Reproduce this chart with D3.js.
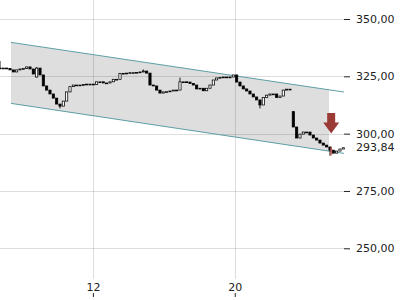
<!DOCTYPE html>
<html>
  <head>
    <meta charset="utf-8" />
    <script src="https://d3js.org/d3.v7.min.js"></script>
    <style>
        body { margin: 0; background: #fff; }
        text { font-family: "DejaVu Sans", sans-serif; }
        .axis path { display: none; }
        .axis text { font-size: 11px; fill: #222; }
        .axis line { stroke: #222; }
    </style>
  </head>
  <body>
    <script type="text/javascript">

        // closing prices, one candle every ~4.5 hours
        var closes = [
            328.6, 328.6, 328.4, 327.8, 326.9, 327.8, 328.2, 328.4, 329.1, 328.2,
            326.0, 328.6, 325.6, 320.8, 319.0, 317.3, 315.5, 312.9, 312.0, 314.2,
            318.2, 320.5, 321.2, 321.2, 321.2, 321.4, 321.6, 321.6, 321.4, 322.6,
            322.6, 322.1, 322.1, 322.6, 323.7, 323.7, 326.3, 326.3, 326.4, 326.6,
            326.6, 326.7, 326.9, 327.3, 326.4, 321.2, 320.8, 319.0, 317.7, 318.2,
            318.3, 318.6, 319.0, 319.0, 322.6, 322.6, 322.5, 321.9, 321.2, 319.5,
            319.8, 318.7, 319.8, 321.2, 323.4, 324.3, 324.5, 324.7, 324.5, 324.7,
            325.6, 322.5, 320.8, 319.5, 318.6, 317.3, 316.0, 314.7, 312.5, 315.8,
            316.8, 317.3, 317.3, 315.8, 316.4, 319.0, 319.4, 319.4, 302.9, 298.1,
            299.8, 300.7, 300.7, 299.4, 298.1, 297.2, 295.9, 295.0, 294.2, 292.8,
            291.5, 292.4, 293.3, 293.84
        ];
        // candles that did not open at the previous close: [index, open]
        var gapOpens = [[11, 324.7], [88, 309.6]];
        // wick extremes worth drawing: [index, high, low]
        var wicks = [[0, 331.7, 328.4], [11, 329.0, 324.5], [18, 312.0, 311.0],
                     [43, 328.0, 326.8], [54, 324.4, 320.5], [78, 312.5, 311.0],
                     [88, 309.9, 302.9], [99, 294.0, 290.4]];

        var firstDay = 6.76, candleStep = 0.188;
        var dayTicks = [12, 20];
        var priceTicks = [250, 275, 300, 325, 350];
        var lastPrice = 293.84;

        // trend channel: [day, price] end points
        var channelUpper = [[7.38, 339.8], [26.16, 318.15]];
        var channelLower = [[7.38, 313.2], [26.16, 291.4]];
        var channelFillEnd = 25.32;
        var signal = { day: 25.44, price: 300.1 };

        var width = 400, height = 300;
        var plotRight = 344;

        var svg = d3.select("body").append("svg")
            .attr("width", width)
            .attr("height", height);

        var x = d3.scaleLinear()
            .domain([firstDay, firstDay + (closes.length - 1) * candleStep])
            .range([0, 343.3]);
        var y = d3.scaleLinear()
            .domain([250, 350])
            .range([248.3, 19]);

        var de = d3.formatLocale({decimal: ",", thousands: ".", grouping: [3], currency: ["", " €"]});
        var fmt = de.format(".2f");

        // channel fill
        function lineAt(pts, d) {
            var t = (d - pts[0][0]) / (pts[1][0] - pts[0][0]);
            return pts[0][1] + t * (pts[1][1] - pts[0][1]);
        }
        var poly = [
            [channelUpper[0][0], channelUpper[0][1]],
            [channelFillEnd, lineAt(channelUpper, channelFillEnd)],
            [channelFillEnd, lineAt(channelLower, channelFillEnd)],
            [channelLower[0][0], channelLower[0][1]]
        ];
        svg.append("path")
            .attr("d", "M" + poly.map(function(p){ return x(p[0]) + "," + y(p[1]); }).join("L") + "Z")
            .attr("fill", "#dedede");

        // grid
        var grid = svg.append("g").attr("class", "grid");
        grid.selectAll("line.h")
            .data(priceTicks)
            .enter().append("line")
            .attr("class", "h")
            .attr("x1", 0).attr("x2", plotRight)
            .attr("y1", function(d){ return Math.round(y(d)) + 0.5; })
            .attr("y2", function(d){ return Math.round(y(d)) + 0.5; })
            .attr("stroke", "#000").attr("stroke-opacity", 0.13);
        grid.selectAll("line.v")
            .data(dayTicks)
            .enter().append("line")
            .attr("class", "v")
            .attr("y1", 0).attr("y2", 279)
            .attr("x1", function(d){ return Math.round(x(d)) + 0.5; })
            .attr("x2", function(d){ return Math.round(x(d)) + 0.5; })
            .attr("stroke", "#000").attr("stroke-opacity", 0.13);

        // channel borders
        [channelUpper, channelLower].forEach(function(pts) {
            svg.append("line")
                .attr("x1", x(pts[0][0])).attr("y1", y(pts[0][1]))
                .attr("x2", x(pts[1][0])).attr("y2", y(pts[1][1]))
                .attr("stroke", "#5d9fa6")
                .attr("stroke-width", 1);
        });

        // candles
        var candles = closes.map(function(c, i) {
            var o = i == 0 ? c : closes[i - 1];
            gapOpens.forEach(function(g){ if (g[0] == i) o = g[1]; });
            var hi = Math.max(o, c), lo = Math.min(o, c);
            wicks.forEach(function(w){ if (w[0] == i) { hi = Math.max(hi, w[1]); lo = Math.min(lo, w[2]); } });
            return {day: firstDay + i * candleStep, open: o, close: c, high: hi, low: lo};
        });

        var cw = 2.2;
        var cg = svg.append("g").attr("class", "candles");
        cg.selectAll("line")
            .data(candles)
            .enter().append("line")
            .attr("x1", function(d){ return x(d.day); })
            .attr("x2", function(d){ return x(d.day); })
            .attr("y1", function(d){ return y(d.high); })
            .attr("y2", function(d){ return y(d.low); })
            .attr("stroke", "#000")
            .attr("stroke-width", 0.9);
        cg.selectAll("rect")
            .data(candles)
            .enter().append("rect")
            .attr("x", function(d){ return x(d.day) - cw / 2; })
            .attr("width", cw)
            .attr("y", function(d){ return y(Math.max(d.open, d.close)); })
            .attr("height", function(d){ return Math.max(0.8, Math.abs(y(d.open) - y(d.close))); })
            .attr("fill", function(d){ return d.close >= d.open ? "#fff" : "#000"; })
            .attr("stroke", "#000")
            .attr("stroke-width", 0.75);

        // sell signal arrow
        var ax = x(signal.day), ay = y(signal.price);
        svg.append("path")
            .attr("d", "M" + ax + "," + ay +
                " l-8,-11 l4,0 l0,-9.5 l8,0 l0,9.5 l4,0 Z")
            .attr("fill", "#9b3b35");
        svg.append("rect")
            .attr("x", ax - 1).attr("y", y(294.0))
            .attr("width", 2).attr("height", 8)
            .attr("fill", "#c0504d").attr("opacity", 0.8);

        // y axis
        svg.append("g")
            .attr("class", "axis")
            .attr("transform", "translate(" + plotRight + ",0)")
            .call(d3.axisRight(y).tickValues(priceTicks).tickFormat(fmt).tickSize(6).tickPadding(6));

        svg.append("text")
            .attr("x", plotRight + 12)
            .attr("y", y(lastPrice))
            .attr("dy", "0.32em")
            .attr("font-size", "11px")
            .attr("fill", "#222")
            .text(fmt(lastPrice));

        // x axis
        svg.append("g")
            .attr("class", "axis")
            .attr("transform", "translate(0,297)")
            .call(d3.axisTop(x).tickValues(dayTicks).tickFormat(d3.format("d")).tickSize(4).tickPadding(2));

    </script>
  </body>
</html>
